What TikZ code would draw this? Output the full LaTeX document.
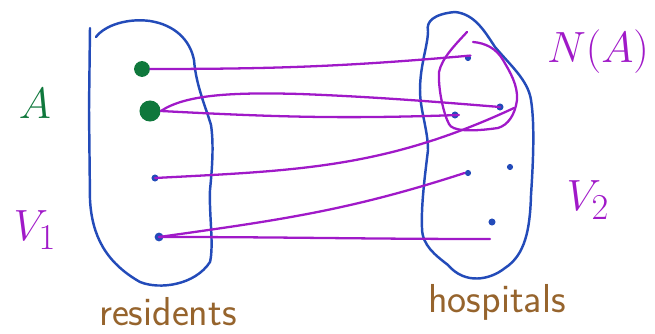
\documentclass[tikz,border=0pt]{standalone}
\usetikzlibrary{calc}
\definecolor{blobblue}{RGB}{35,75,185}
\definecolor{edgepurple}{RGB}{160,25,200}
\definecolor{agreen}{RGB}{15,120,60}
\definecolor{labbrown}{RGB}{150,100,45}
\tikzset{
  blob/.style={draw=blobblue, line width=1.4pt, line cap=round, line join=round},
  edge/.style={draw=edgepurple, line width=1.3pt, line cap=round},
  nbhd/.style={draw=edgepurple, line width=1.3pt, line cap=round, line join=round},
  vdot/.style={circle, fill=blobblue, inner sep=0pt, minimum size=4pt},
  gdot/.style={circle, fill=agreen, inner sep=0pt, minimum size=#1},
  plab/.style={text=edgepurple, inner sep=0pt},
  blab/.style={text=labbrown, inner sep=0pt, font=\sffamily\fontsize{23}{26}\selectfont},
}
\begin{document}
\begin{tikzpicture}[x=0.02cm, y=-0.02cm]
\useasboundingbox (0,0) rectangle (655,334);

% left blob (residents)
\draw[blob] (90,28) -- (89,110) -- (90,200)
  .. controls (92,235) and (105,262) .. (140,282)
  .. controls (160,290) and (195,285) .. (210,262)
  .. controls (214,245) and (209,215) .. (210,190)
  .. controls (212,170) and (214,145) .. (211,125)
  .. controls (205,105) and (196,85) .. (194,60)
  .. controls (190,40) and (175,25) .. (150,21)
  .. controls (128,18) and (105,25) .. (96,37);

% right blob (hospitals)
\draw[blob] (428,31) .. controls (426,22) and (433,14) .. (455,12)
  .. controls (475,14) and (485,32) .. (495,47)
  .. controls (510,65) and (528,80) .. (531,100)
  .. controls (535,125) and (533,165) .. (531,195)
  .. controls (530,230) and (525,255) .. (505,268)
  .. controls (490,280) and (465,285) .. (448,265)
  .. controls (435,255) and (422,245) .. (422,228)
  .. controls (421,205) and (425,175) .. (428,150)
  .. controls (428,130) and (420,110) .. (420,90)
  .. controls (420,65) and (428,45) .. (428,31);

% N(A) loop
\draw[nbhd] (467,32) .. controls (455,45) and (442,58) .. (439,72)
  .. controls (438,90) and (444,115) .. (449,124)
  .. controls (452,131) and (470,132) .. (498,128)
  .. controls (508,125) and (515,115) .. (517,100)
  .. controls (518,85) and (510,72) .. (503,60)
  .. controls (496,48) and (485,43) .. (473,42);

% vertices
\node[gdot=9pt] (r1) at (142,69) {};
\node[gdot=12pt] (r2) at (150,111) {};
\node[vdot] (r3) at (155,178) {};
\node[vdot, minimum size=5pt] (r4) at (159,237) {};

\node[vdot, minimum size=3.5pt] (h1) at (468,58) {};
\node[vdot] (h2) at (500,107) {};
\node[vdot] (h3) at (455,115) {};
\node[vdot, minimum size=3.5pt] (h4) at (468,173) {};
\node[vdot, minimum size=3.5pt] (h5) at (510,167) {};
\node[vdot] (h6) at (492,222) {};
\coordinate (h6e) at (490,239);
\coordinate (h2e) at (514,108);

% edges
\draw[edge] (r2.east) .. controls (185,95) and (230,92) .. (300,94)
  .. controls (380,97) and (450,103) .. (h2.center);
\draw[edge] (r1.east) to[out=0, in=185] (h1.north east);
\draw[edge] (r2.east) to[out=-3, in=182] (h3.east);
\draw[edge] (r3.center) to[out=3, in=205] (h2e);
\draw[edge] (r4.center) to[out=8, in=198] (h4.west);
\draw[edge] (r4.center) to[out=0, in=180] (h6e);

% labels
\node[text=agreen, inner sep=0pt, font=\fontsize{30}{34}\selectfont] (lA) at (35,104) {$A$};
\node[plab, font=\fontsize{32}{36}\selectfont] (lV1) at (35,230) {$V_1$};
\node[plab, font=\fontsize{25}{30}\selectfont] (lNA) at (598,52) {$N(A)$};
\node[plab, font=\fontsize{28}{32}\selectfont] (lV2) at (588,200) {$V_2$};
\node[blab] (lres) at (168,312) {residents};
\node[blab] (lhos) at (497,302) {hospitals};
\end{tikzpicture}
\end{document}
